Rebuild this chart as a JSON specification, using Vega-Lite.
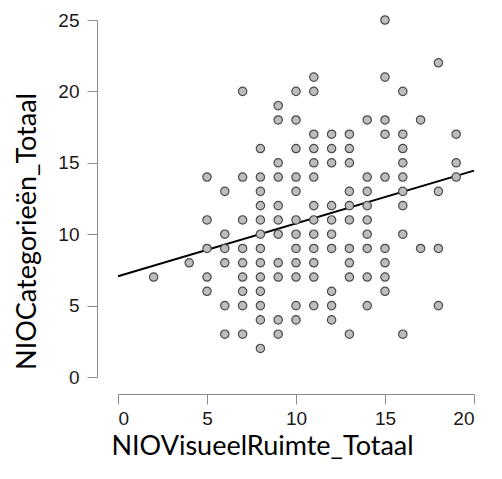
{
  "$schema": "https://vega.github.io/schema/vega-lite/v6.json",
  "autosize": {"type": "none"},
  "padding": {"left": 118, "top": 20, "right": 28, "bottom": 82},
  "width": 356,
  "height": 357,
  "background": "white",
  "config": {
    "view": {"stroke": null},
    "axis": {
      "grid": false,
      "domainColor": "#8c8c8c",
      "tickColor": "#8c8c8c",
      "domainWidth": 1,
      "tickWidth": 1,
      "tickSize": 10,
      "labelFont": "Liberation Sans",
      "labelFontSize": 19,
      "labelColor": "#1a1a1a",
      "titleFont": "Lato",
      "titleFontSize": 27,
      "titleFontWeight": "normal",
      "titleColor": "#000000"
    }
  },
  "datasets": {
    "scores": [
      {"visueel": 2, "categorie": 7},
      {"visueel": 4, "categorie": 8},
      {"visueel": 5, "categorie": 14}, {"visueel": 5, "categorie": 11}, {"visueel": 5, "categorie": 9}, {"visueel": 5, "categorie": 7}, {"visueel": 5, "categorie": 6},
      {"visueel": 6, "categorie": 13}, {"visueel": 6, "categorie": 10}, {"visueel": 6, "categorie": 9}, {"visueel": 6, "categorie": 8}, {"visueel": 6, "categorie": 5}, {"visueel": 6, "categorie": 3},
      {"visueel": 7, "categorie": 20}, {"visueel": 7, "categorie": 14}, {"visueel": 7, "categorie": 11}, {"visueel": 7, "categorie": 9}, {"visueel": 7, "categorie": 8}, {"visueel": 7, "categorie": 7}, {"visueel": 7, "categorie": 6}, {"visueel": 7, "categorie": 5}, {"visueel": 7, "categorie": 3},
      {"visueel": 8, "categorie": 16}, {"visueel": 8, "categorie": 14}, {"visueel": 8, "categorie": 13}, {"visueel": 8, "categorie": 12}, {"visueel": 8, "categorie": 11}, {"visueel": 8, "categorie": 10}, {"visueel": 8, "categorie": 9}, {"visueel": 8, "categorie": 8}, {"visueel": 8, "categorie": 7}, {"visueel": 8, "categorie": 6}, {"visueel": 8, "categorie": 5}, {"visueel": 8, "categorie": 4}, {"visueel": 8, "categorie": 2},
      {"visueel": 9, "categorie": 19}, {"visueel": 9, "categorie": 18}, {"visueel": 9, "categorie": 15}, {"visueel": 9, "categorie": 14}, {"visueel": 9, "categorie": 12}, {"visueel": 9, "categorie": 11}, {"visueel": 9, "categorie": 10}, {"visueel": 9, "categorie": 8}, {"visueel": 9, "categorie": 7}, {"visueel": 9, "categorie": 4}, {"visueel": 9, "categorie": 3},
      {"visueel": 10, "categorie": 20}, {"visueel": 10, "categorie": 18}, {"visueel": 10, "categorie": 16}, {"visueel": 10, "categorie": 14}, {"visueel": 10, "categorie": 13}, {"visueel": 10, "categorie": 11}, {"visueel": 10, "categorie": 10}, {"visueel": 10, "categorie": 9}, {"visueel": 10, "categorie": 8}, {"visueel": 10, "categorie": 7}, {"visueel": 10, "categorie": 5}, {"visueel": 10, "categorie": 4},
      {"visueel": 11, "categorie": 21}, {"visueel": 11, "categorie": 20}, {"visueel": 11, "categorie": 17}, {"visueel": 11, "categorie": 16}, {"visueel": 11, "categorie": 15}, {"visueel": 11, "categorie": 14}, {"visueel": 11, "categorie": 12}, {"visueel": 11, "categorie": 11}, {"visueel": 11, "categorie": 10}, {"visueel": 11, "categorie": 9}, {"visueel": 11, "categorie": 8}, {"visueel": 11, "categorie": 7}, {"visueel": 11, "categorie": 5},
      {"visueel": 12, "categorie": 17}, {"visueel": 12, "categorie": 16}, {"visueel": 12, "categorie": 15}, {"visueel": 12, "categorie": 12}, {"visueel": 12, "categorie": 11}, {"visueel": 12, "categorie": 10}, {"visueel": 12, "categorie": 9}, {"visueel": 12, "categorie": 6}, {"visueel": 12, "categorie": 5}, {"visueel": 12, "categorie": 4},
      {"visueel": 13, "categorie": 17}, {"visueel": 13, "categorie": 16}, {"visueel": 13, "categorie": 15}, {"visueel": 13, "categorie": 13}, {"visueel": 13, "categorie": 12}, {"visueel": 13, "categorie": 11}, {"visueel": 13, "categorie": 9}, {"visueel": 13, "categorie": 8}, {"visueel": 13, "categorie": 7}, {"visueel": 13, "categorie": 3},
      {"visueel": 14, "categorie": 18}, {"visueel": 14, "categorie": 14}, {"visueel": 14, "categorie": 13}, {"visueel": 14, "categorie": 12}, {"visueel": 14, "categorie": 11}, {"visueel": 14, "categorie": 10}, {"visueel": 14, "categorie": 9}, {"visueel": 14, "categorie": 7}, {"visueel": 14, "categorie": 5},
      {"visueel": 15, "categorie": 25}, {"visueel": 15, "categorie": 21}, {"visueel": 15, "categorie": 18}, {"visueel": 15, "categorie": 17}, {"visueel": 15, "categorie": 14}, {"visueel": 15, "categorie": 9}, {"visueel": 15, "categorie": 8}, {"visueel": 15, "categorie": 7}, {"visueel": 15, "categorie": 6},
      {"visueel": 16, "categorie": 20}, {"visueel": 16, "categorie": 17}, {"visueel": 16, "categorie": 16}, {"visueel": 16, "categorie": 15}, {"visueel": 16, "categorie": 14}, {"visueel": 16, "categorie": 13}, {"visueel": 16, "categorie": 12}, {"visueel": 16, "categorie": 10}, {"visueel": 16, "categorie": 3},
      {"visueel": 17, "categorie": 18}, {"visueel": 17, "categorie": 9},
      {"visueel": 18, "categorie": 22}, {"visueel": 18, "categorie": 13}, {"visueel": 18, "categorie": 9}, {"visueel": 18, "categorie": 5},
      {"visueel": 19, "categorie": 17}, {"visueel": 19, "categorie": 15}, {"visueel": 19, "categorie": 14}
    ],
    "fit": [
      {"visueel": 0, "categorie": 7.05},
      {"visueel": 20, "categorie": 14.45}
    ]
  },
  "encoding": {
    "x": {
      "field": "visueel",
      "type": "quantitative",
      "scale": {"domain": [0, 20], "nice": false, "zero": false},
      "axis": {
        "title": "NIOVisueelRuimte_Totaal",
        "values": [0, 5, 10, 15, 20],
        "offset": 17,
        "labelPadding": 5,
        "titlePadding": 5,
        "titleX": 144
      }
    },
    "y": {
      "field": "categorie",
      "type": "quantitative",
      "scale": {"domain": [0, 25], "nice": false, "zero": false},
      "axis": {
        "title": "NIOCategorieën_Totaal",
        "values": [0, 5, 10, 15, 20, 25],
        "offset": 21,
        "labelPadding": 8,
        "titlePadding": 16,
        "titleY": 211
      }
    }
  },
  "layer": [
    {
      "data": {"name": "fit"},
      "mark": {"type": "line", "color": "#000000", "strokeWidth": 2, "clip": false}
    },
    {
      "data": {"name": "scores"},
      "mark": {
        "type": "point",
        "shape": "circle",
        "filled": true,
        "size": 70,
        "fill": "#bdbdbd",
        "stroke": "#4a4a4a",
        "strokeWidth": 1.2,
        "opacity": 1,
        "clip": false
      }
    }
  ]
}
